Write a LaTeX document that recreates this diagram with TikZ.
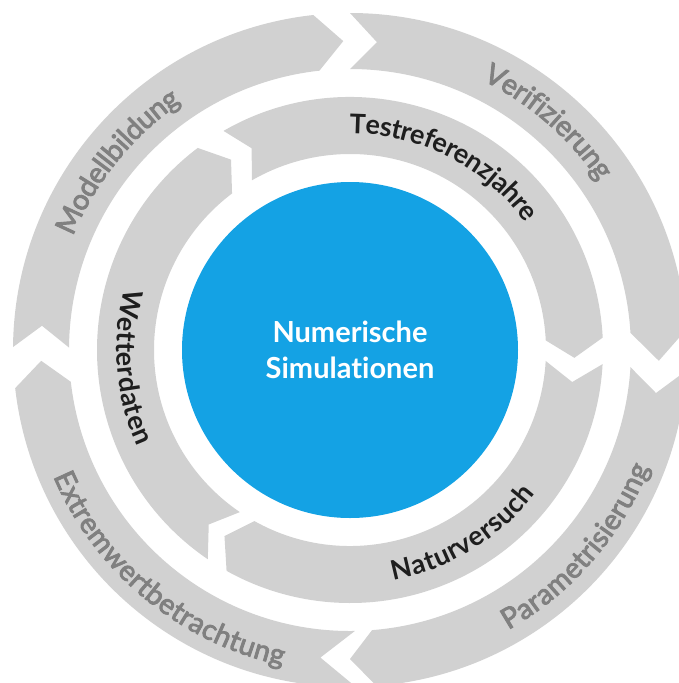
\documentclass[tikz,border=0pt]{standalone}
\usepackage{fontspec}
\setmainfont{Lato}[Ligatures=NoCommon]
\newfontfamily\outerfam{Lato}[Ligatures=NoCommon, FakeBold=3]
\usetikzlibrary{decorations.text}
\definecolor{ringgray}{RGB}{209,209,209}
\definecolor{labelgray}{RGB}{128,128,128}
\definecolor{labeldark}{RGB}{30,30,30}
\definecolor{simblue}{RGB}{20,162,228}
\newcommand\outerfont{\color{labelgray}\outerfam\fontsize{28.5}{32}\selectfont}
\newcommand\innerfont{\color{labeldark}\bfseries\fontsize{27}{32}\selectfont}
% #1 inner radius, #2 outer radius, #3 start corner angle, #4 notch angle, #5 end corner angle, #6 tip angle
\newcommand\segarrow[6]{%
  \pgfmathsetmacro\segmid{(#1+#2)/2}%
  \fill[ringgray] (#3:#2pt) arc[start angle=#3, end angle=#5, radius=#2pt]
    -- (#6:\segmid pt) -- (#5:#1pt) arc[start angle=#5, end angle=#3, radius=#1pt]
    -- (#4:\segmid pt) -- cycle;}
\tikzset{
  curvelabel/.style={decorate, decoration={text along path, text align=center, raise=-9.5pt, text={#1}}}
}
\begin{document}
\begin{tikzpicture}[x=1pt,y=1pt]
\useasboundingbox (0,0) rectangle (678,-683);
\begin{scope}[shift={(350,-350)}]
% outer ring
\segarrow{281}{337}{179.5}{175.5}{96.25}{91.25}
\segarrow{281}{337}{90}{85}{3.5}{-2}
\segarrow{281}{337}{-3.5}{-8}{-85.5}{-90}
\segarrow{281}{337}{271}{264.5}{186.5}{182}
% inner ring
\segarrow{196}{253}{120}{116}{2.8}{-2}
\segarrow{196}{253}{-3.2}{-8.2}{-119.2}{-124}
\segarrow{196}{253}{235.8}{231}{127}{122}
% centre
\node[circle, fill=simblue, minimum size=336pt, inner sep=0pt, text=white,
      font=\bfseries\fontsize{29}{36}\selectfont, align=center] (sim) at (0,0) {Numerische\\Simulationen};
% outer labels
\path[curvelabel={|\outerfont|Modellbildung}] (176:309pt) arc[start angle=176, end angle=106, radius=309pt];
\path[curvelabel={|\outerfont|Verifizierung}] (84:310pt) arc[start angle=84, end angle=14, radius=310pt];
\path[curvelabel={|\outerfont|Parametrisierung}] (-81:312pt) arc[start angle=-81, end angle=-1, radius=312pt];
\path[curvelabel={|\outerfont|Extremwertbetrachtung}] (185:313pt) arc[start angle=185, end angle=276, radius=313pt];
% inner labels
\path[curvelabel={|\innerfont|Testreferenzjahre}] (108:226pt) arc[start angle=108, end angle=18, radius=226pt];
\path[curvelabel={|\innerfont|Naturversuch}] (-98:225pt) arc[start angle=-98, end angle=-19, radius=225pt];
\path[curvelabel={|\innerfont|Wetterdaten}] (147:224pt) arc[start angle=147, end angle=222, radius=224pt];
\end{scope}
\end{tikzpicture}
\end{document}
